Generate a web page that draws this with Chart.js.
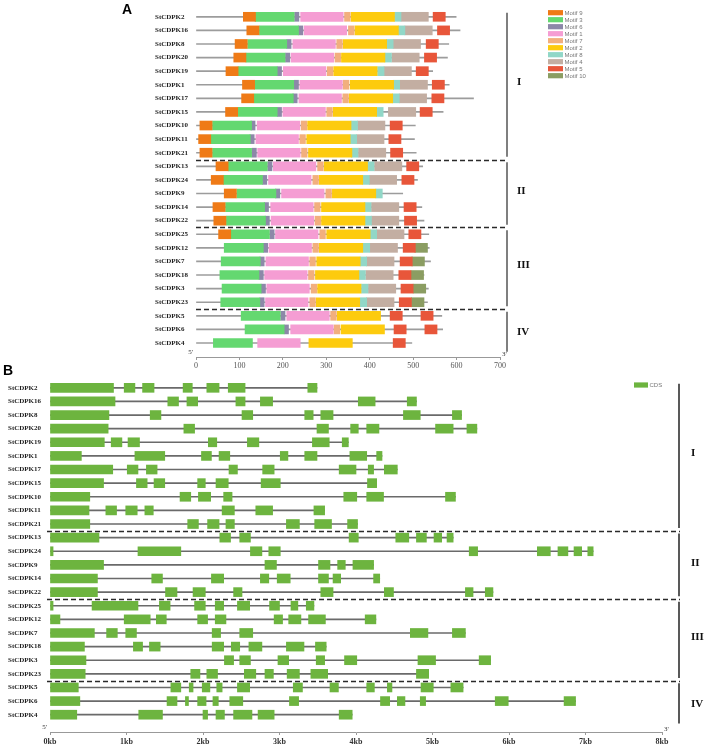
<!DOCTYPE html>
<html>
<head>
<meta charset="utf-8">
<script src="https://cdn.jsdelivr.net/npm/chart.js@4.4.1/dist/chart.umd.min.js"></script>
<style>
  html, body { margin: 0; padding: 0; background: #fff; }
  #wrap { position: relative; width: 708px; height: 746px; }
  canvas { position: absolute; left: 0; }
  #motifChart { top: 0; }
  #geneChart { top: 360px; }
</style>
</head>
<body>
<div id="wrap">
  <canvas id="motifChart" width="708" height="370"></canvas>
  <canvas id="geneChart" width="708" height="386"></canvas>
</div>
<script>
// gene order (same in both panels)
var genes = ['StCDPK2', 'StCDPK16', 'StCDPK8', 'StCDPK20', 'StCDPK19', 'StCDPK1', 'StCDPK17', 'StCDPK15',
  'StCDPK10', 'StCDPK11', 'StCDPK21', 'StCDPK13', 'StCDPK24', 'StCDPK9', 'StCDPK14', 'StCDPK22',
  'StCDPK25', 'StCDPK12', 'StCDPK7', 'StCDPK18', 'StCDPK3', 'StCDPK23', 'StCDPK5', 'StCDPK6', 'StCDPK4'];
var groupNames = ['I', 'II', 'III', 'IV'];
var groupBreaks = [10.5, 15.5, 21.5];

// ---- panel A: conserved motifs (aa) ----
var proteinLength = [599, 608, 582, 579, 545, 583, 639, 569, 505, 503, 507, 522, 510, 476, 520, 525,
  536, 537, 540, 525, 535, 533, 566, 568, 497];
var motifNames = ['Motif 9', 'Motif 3', 'Motif 6', 'Motif 1', 'Motif 7', 'Motif 2', 'Motif 8', 'Motif 4', 'Motif 5', 'Motif 10'];
var motifColors = ['#EF7A16', '#64D870', '#8C88A8', '#F59DD3', '#F2AF7E', '#FDCB0E', '#91D7C7', '#C3AEA2', '#E8563A', '#8B9D62'];
var motifWidth = [28, 90, 10, 98, 13, 100, 15, 63, 28, 29];
var motif9 = [109, 117, 90, 87, 69, 107, 105, 68, 9, 6, 9, 46, 35, 65, 39, 41, 52, null, null, null, null, null, null, null, null];
var motif3 = [136, 146, 119, 115, 97, 135, 134, 97, 38, 35, 38, 74, 63, 94, 68, 70, 79, 65, 58, 55, 60, 57, 104, 113, 40];
var motif6 = [227, 236, 209, 206, 187, 226, 223, 187, 126, 124, 129, 165, 153, 183, 157, 159, 170, 155, 147, 145, 150, 147, 195, 203, null];
var motif1 = [241, 249, 223, 219, 201, 239, 237, 200, 141, 138, 142, 178, 167, 197, 172, 173, 183, 168, 161, 158, 163, 160, 209, 218, 142];
var motif7 = [342, 351, 324, 320, 302, 339, 338, 301, 242, 239, 243, 280, 269, 299, 273, 274, 285, 269, 262, 259, 265, 262, 310, 318, null];
var motif2 = [357, 366, 339, 335, 317, 355, 353, 316, 257, 255, 259, 295, 284, 314, 289, 289, 301, 284, 278, 275, 280, 277, 325, 334, 260];
var motif8 = [457, 466, 439, 435, 418, 454, 453, 416, 357, 355, 358, 395, 384, 414, 388, 389, 401, 385, 378, 375, 381, 378, null, null, null];
var motif4 = [472, 481, 454, 451, 433, 470, 468, 443, 372, 370, 374, 411, 399, null, 404, 404, 416, 401, 393, 391, 397, 393, null, null, null];
var motif5 = [546, 556, 530, 526, 507, 544, 543, 516, 447, 444, 448, 485, 474, null, 479, 480, 490, 477, 470, 467, 472, 468, 447, 456, 454];
var motif5b = [null, null, null, null, null, null, null, null, null, null, null, null, null, null, null, null, null, null, null, null, null, null, 518, 527, null];
var motif10 = [null, null, null, null, null, null, null, null, null, null, null, null, null, null, null, null, null, 504, 497, 495, 500, 496, null, null, null];

// ---- panel B: exon/intron structure (kb) ----
var geneLength = [3.49, 4.79, 5.38, 5.58, 3.90, 4.34, 4.54, 4.27, 5.30, 3.59, 4.02, 5.27, 7.10, 4.23, 4.31, 5.79,
  3.45, 4.26, 5.43, 3.61, 5.76, 4.95, 5.40, 6.87, 3.95];
var exons = [
  [[0, 0.83], [0.97, 1.11], [1.21, 1.36], [1.74, 1.86], [2.05, 2.21], [2.33, 2.55], [3.37, 3.49]],
  [[0, 0.85], [1.54, 1.68], [1.79, 1.93], [2.43, 2.55], [2.75, 2.91], [4.03, 4.25], [4.67, 4.79]],
  [[0, 0.77], [1.31, 1.45], [2.51, 2.65], [3.33, 3.44], [3.54, 3.70], [4.62, 4.84], [5.26, 5.38]],
  [[0, 0.76], [1.75, 1.89], [3.49, 3.64], [3.93, 4.03], [4.14, 4.30], [5.04, 5.27], [5.45, 5.58]],
  [[0, 0.71], [0.80, 0.94], [1.02, 1.17], [2.07, 2.18], [2.58, 2.73], [3.43, 3.65], [3.82, 3.90]],
  [[0, 0.41], [1.11, 1.50], [1.98, 2.11], [2.21, 2.35], [3.01, 3.11], [3.33, 3.49], [3.92, 4.14], [4.27, 4.34]],
  [[0, 0.82], [1.01, 1.15], [1.26, 1.40], [2.34, 2.45], [2.78, 2.93], [3.78, 4.00], [4.16, 4.23], [4.37, 4.54]],
  [[0, 0.70], [1.13, 1.27], [1.36, 1.50], [1.93, 2.03], [2.17, 2.33], [2.76, 3.01], [4.15, 4.27]],
  [[0, 0.52], [1.70, 1.84], [1.94, 2.10], [2.27, 2.38], [3.84, 4.01], [4.14, 4.36], [5.17, 5.30]],
  [[0, 0.51], [0.73, 0.87], [0.99, 1.14], [1.24, 1.35], [2.25, 2.41], [2.69, 2.91], [3.45, 3.59]],
  [[0, 0.52], [1.80, 1.94], [2.06, 2.21], [2.30, 2.41], [3.09, 3.26], [3.46, 3.68], [3.89, 4.02]],
  [[0, 0.64], [2.22, 2.36], [2.48, 2.62], [3.91, 4.03], [4.52, 4.69], [4.79, 4.92], [5.02, 5.12], [5.19, 5.27]],
  [[0, 0.04], [1.15, 1.71], [2.62, 2.77], [2.86, 3.01], [5.48, 5.59], [6.37, 6.54], [6.64, 6.77], [6.85, 6.95], [7.03, 7.10]],
  [[0, 0.70], [2.81, 2.96], [3.51, 3.66], [3.76, 3.86], [3.96, 4.23]],
  [[0, 0.62], [1.33, 1.47], [2.11, 2.27], [2.75, 2.86], [2.97, 3.14], [3.51, 3.64], [3.70, 3.80], [4.23, 4.31]],
  [[0, 0.62], [1.51, 1.66], [1.87, 2.03], [2.40, 2.51], [3.54, 3.70], [4.37, 4.49], [5.43, 5.53], [5.69, 5.79]],
  [[0, 0.04], [0.55, 1.15], [1.43, 1.57], [1.89, 2.03], [2.16, 2.27], [2.45, 2.61], [2.87, 3.00], [3.15, 3.24], [3.35, 3.45]],
  [[0, 0.13], [0.97, 1.31], [1.39, 1.52], [1.93, 2.06], [2.16, 2.30], [2.93, 3.04], [3.12, 3.28], [3.38, 3.60], [4.12, 4.26]],
  [[0, 0.58], [0.74, 0.88], [0.99, 1.13], [2.12, 2.23], [2.48, 2.65], [4.71, 4.94], [5.26, 5.43]],
  [[0, 0.45], [1.09, 1.21], [1.30, 1.44], [2.12, 2.27], [2.37, 2.48], [2.60, 2.77], [3.09, 3.32], [3.47, 3.61]],
  [[0, 0.47], [2.28, 2.40], [2.48, 2.62], [2.98, 3.12], [3.48, 3.59], [3.85, 4.01], [4.81, 5.04], [5.61, 5.76]],
  [[0, 0.46], [1.84, 1.96], [2.05, 2.19], [2.54, 2.69], [2.81, 2.92], [3.10, 3.26], [3.41, 3.63], [4.79, 4.95]],
  [[0, 0.37], [1.58, 1.71], [1.82, 1.87], [1.99, 2.09], [2.18, 2.25], [2.45, 2.61], [3.18, 3.30], [3.66, 3.77], [4.14, 4.24], [4.41, 4.47], [4.85, 5.01], [5.24, 5.40]],
  [[0, 0.39], [1.53, 1.66], [1.77, 1.81], [1.93, 2.04], [2.13, 2.20], [2.35, 2.52], [3.13, 3.25], [4.32, 4.44], [4.54, 4.64], [4.84, 4.91], [5.82, 5.99], [6.72, 6.87]],
  [[0, 0.35], [1.16, 1.47], [2.00, 2.06], [2.17, 2.28], [2.40, 2.64], [2.72, 2.93], [3.78, 3.95]]
];

var serif = '"Liberation Serif", "DejaVu Serif", serif';
var sans = '"Liberation Sans", Arial, sans-serif';

// dashed group lines, side brackets and roman numerals
function decorate(chart, o) {
  var ctx = chart.ctx, ys = chart.scales.y, xs = chart.scales.x;
  ctx.save();
  ctx.strokeStyle = '#2a2a2a';
  ctx.lineWidth = 1.4;
  ctx.setLineDash([5, 3]);
  groupBreaks.forEach(function (b) {
    var y = Math.round(ys.getPixelForValue(b)) + 0.5;
    ctx.beginPath(); ctx.moveTo(o.dashFrom, y); ctx.lineTo(o.dashTo, y); ctx.stroke();
  });
  ctx.setLineDash([]);
  ctx.strokeStyle = o.barColor;
  ctx.lineWidth = 1.5;
  [[-0.3, 10.3], [10.7, 15.3], [15.7, 21.3], [21.7, 24.65]].forEach(function (seg) {
    ctx.beginPath();
    ctx.moveTo(o.barX, ys.getPixelForValue(seg[0]));
    ctx.lineTo(o.barX, ys.getPixelForValue(seg[1]));
    ctx.stroke();
  });
  ctx.fillStyle = '#111';
  ctx.font = 'bold 11px ' + serif;
  ctx.textBaseline = 'middle';
  ctx.textAlign = 'left';
  [4.8, 12.85, 18.3, 23.2].forEach(function (v, i) {
    ctx.fillText(groupNames[i], o.numX, ys.getPixelForValue(v));
  });
  // 5' and 3' ends
  ctx.fillStyle = '#333';
  ctx.font = '7px ' + serif;
  ctx.textBaseline = 'bottom';
  ctx.textAlign = 'right';
  ctx.fillText("5'", xs.left - 3, xs.top - 1);
  ctx.textAlign = 'left';
  ctx.fillText("3'", xs.right + 2, xs.top + 1);
  // panel letter
  ctx.fillStyle = '#000';
  ctx.font = 'bold 14px ' + sans;
  ctx.textBaseline = 'top';
  ctx.fillText(o.letter, o.letterX, o.letterY);
  // legend
  ctx.font = '6px ' + sans;
  ctx.textBaseline = 'middle';
  o.legend.forEach(function (item, i) {
    var y = o.legendY + i * 7;
    ctx.fillStyle = item[1];
    ctx.fillRect(o.legendX, y - 2.6, o.legendW, 5.2);
    ctx.fillStyle = '#777';
    ctx.fillText(item[0], o.legendX + o.legendW + 1.5, y + 0.5);
  });
  ctx.restore();
}

function rowAxis(max, left) {
  return {
    type: 'linear', reverse: true, min: -0.5, max: max, offset: false,
    afterBuildTicks: function (s) { s.ticks = genes.map(function (g, i) { return {value: i}; }); },
    afterFit: function (s) { s.width = left; },
    grid: {display: false, offset: false}, border: {display: false},
    ticks: {
      autoSkip: false, crossAlign: 'far', padding: 2, color: '#222',
      font: {family: serif, size: 7, weight: 'bold'},
      callback: function (v) { return genes[v]; }
    }
  };
}

// ---------- panel A ----------
var motifStarts = [motif9, motif3, motif6, motif1, motif7, motif2, motif8, motif4, motif5, motif10];
var motifSets = motifStarts.map(function (starts, m) {
  var pts = [];
  starts.forEach(function (s, i) { if (s !== null) pts.push({x: [s, s + motifWidth[m]], y: i}); });
  if (m === 8) {
    motif5b.forEach(function (s, i) { if (s !== null) pts.push({x: [s, s + motifWidth[m]], y: i}); });
  }
  return {label: motifNames[m], data: pts, backgroundColor: motifColors[m], barThickness: 9, grouped: false, order: 0};
});
motifSets.push({
  label: 'protein', data: proteinLength.map(function (l, i) { return {x: [0, l], y: i}; }),
  backgroundColor: '#9c9c9c', barThickness: 1, grouped: false, order: 1
});

new Chart(document.getElementById('motifChart'), {
  type: 'bar',
  data: {datasets: motifSets},
  options: {
    indexAxis: 'y', responsive: false, animation: false,
    layout: {padding: {left: 155, right: 208, top: 10, bottom: 1}},
    plugins: {legend: {display: false}, tooltip: {enabled: false}},
    scales: {
      x: {
        type: 'linear', min: 0, max: 700,
        afterFit: function (s) { s.height = 12; },
        grid: {drawOnChartArea: false, tickLength: 3, color: '#999'},
        border: {color: '#999'},
        ticks: {stepSize: 100, padding: 1, color: '#555', font: {family: serif, size: 8}}
      },
      y: rowAxis(25.03, 41)
    }
  },
  plugins: [{
    id: 'decorA',
    afterDraw: function (chart) {
      decorate(chart, {
        dashFrom: 196, dashTo: 508, barX: 507, barColor: '#555', numX: 517,
        letter: 'A', letterX: 122, letterY: 3,
        legend: motifNames.map(function (n, i) { return [n, motifColors[i]]; }),
        legendX: 548, legendY: 12.7, legendW: 15
      });
    }
  }]
});

// ---------- panel B ----------
var exonPts = [];
exons.forEach(function (list, i) {
  list.forEach(function (e) { exonPts.push({x: e, y: i}); });
});

new Chart(document.getElementById('geneChart'), {
  type: 'bar',
  data: {
    datasets: [
      {label: 'CDS', data: exonPts, backgroundColor: '#6DB43F', barThickness: 9, grouped: false, order: 0},
      {label: 'intron', data: geneLength.map(function (l, i) { return {x: [0, l], y: i}; }),
        backgroundColor: '#6a6a6a', barThickness: 1, grouped: false, order: 1}
    ]
  },
  options: {
    indexAxis: 'y', responsive: false, animation: false,
    layout: {padding: {left: 8, right: 46, top: 21, bottom: 2}},
    plugins: {legend: {display: false}, tooltip: {enabled: false}},
    scales: {
      x: {
        type: 'linear', min: 0, max: 8,
        afterFit: function (s) { s.height = 12; },
        grid: {drawOnChartArea: false, tickLength: 3, color: '#999'},
        border: {color: '#999'},
        ticks: {
          stepSize: 1, padding: 2, color: '#333', font: {family: serif, size: 8, weight: 'bold'},
          callback: function (v) { return v + 'kb'; }
        }
      },
      y: rowAxis(25.27, 42)
    }
  },
  plugins: [{
    id: 'decorB',
    afterDraw: function (chart) {
      decorate(chart, {
        dashFrom: 47, dashTo: 680, barX: 679, barColor: '#222', numX: 691,
        letter: 'B', letterX: 3, letterY: 4,
        legend: [['CDS', '#6DB43F']],
        legendX: 634, legendY: 25, legendW: 14
      });
    }
  }]
});
</script>
</body>
</html>
